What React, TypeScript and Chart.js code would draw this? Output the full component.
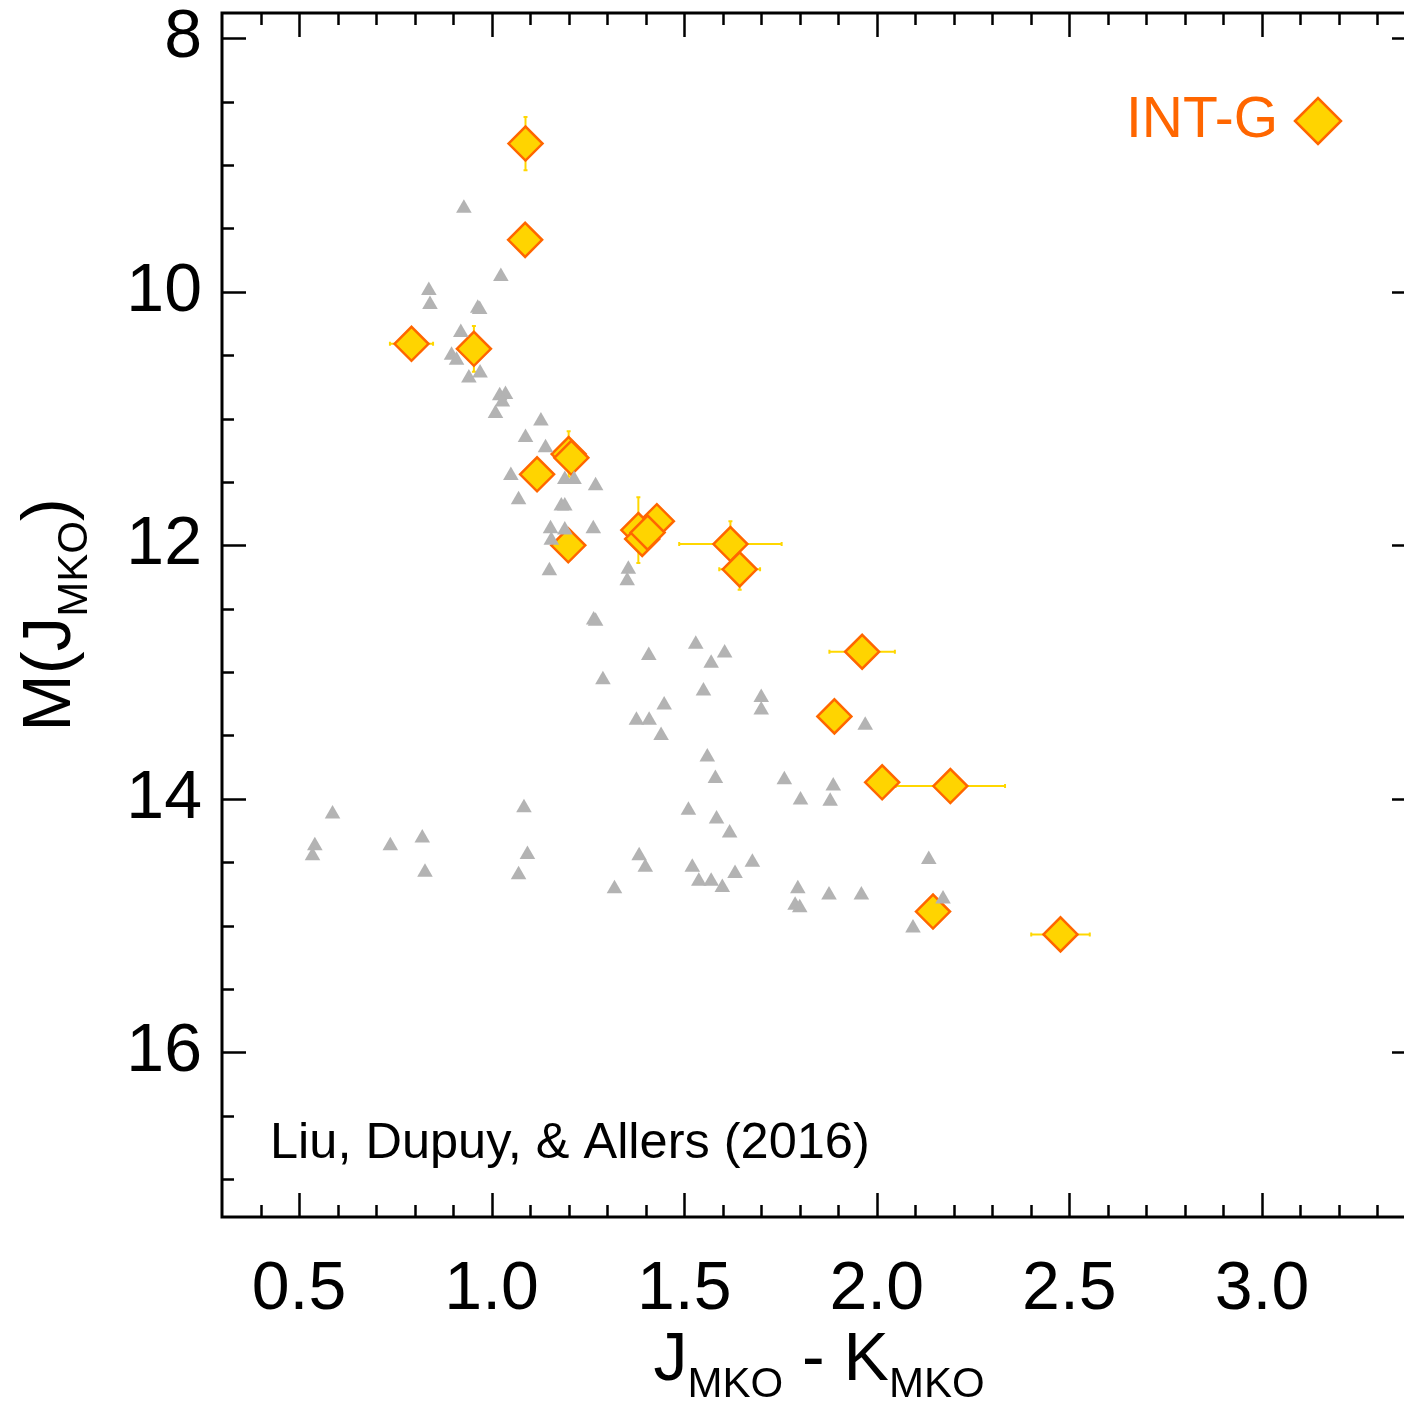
import React, { useEffect, useRef } from "react";
import { Chart, registerables } from "chart.js";

Chart.register(...registerables);

// Field objects (grey triangles): J-K colour and M(J)
const fieldX = [
  0.928, 1.024, 0.837, 0.840, 0.964, 0.969, 0.920, 0.896, 0.909, 0.970,
  0.941, 1.021, 1.036, 1.028, 1.010, 1.128, 1.088, 1.140, 1.050, 1.190,
  1.214, 1.270, 1.070, 1.181, 1.190, 1.153, 1.190, 1.264, 1.155, 1.150,
  1.355, 1.352, 1.265, 1.270, 1.530, 1.605, 1.408, 1.570, 1.289, 1.550,
  1.700, 1.448, 1.700, 1.376, 1.409, 1.440, 1.970, 1.560, 1.581, 1.760,
  1.887, 1.802, 1.879, 1.511, 1.584, 1.618, 1.677, 1.521, 1.632, 1.538,
  1.570, 1.599, 1.795, 1.876, 1.960, 1.788, 1.800, 2.135, 2.172, 2.094,
  0.587, 0.541, 0.535, 0.737, 0.820, 0.827, 1.084, 1.093, 1.070, 1.383,
  1.399, 1.319,
];
const fieldY = [
  9.34, 9.88, 9.99, 10.10, 10.13, 10.14, 10.32, 10.50, 10.54, 10.64,
  10.68, 10.82, 10.81, 10.87, 10.96, 11.02, 11.15, 11.23, 11.45, 11.48,
  11.48, 11.53, 11.64, 11.69, 11.69, 11.87, 11.88, 11.87, 11.96, 12.20,
  12.19, 12.28, 12.59, 12.60, 12.78, 12.85, 12.87, 12.93, 13.06, 13.15,
  13.20, 13.26, 13.30, 13.38, 13.38, 13.50, 13.42, 13.67, 13.84, 13.85,
  13.90, 14.01, 14.02, 14.09, 14.16, 14.27, 14.50, 14.54, 14.59, 14.65,
  14.65, 14.70, 14.71, 14.76, 14.76, 14.84, 14.86, 14.48, 14.79, 15.02,
  14.12, 14.37, 14.45, 14.37, 14.31, 14.58, 14.07, 14.44, 14.60, 14.45,
  14.54, 14.71,
];

// INT-G objects (diamonds)
const intgX = [
  1.088, 1.087, 0.792, 0.954, 1.200, 1.207, 1.118, 1.199, 1.429, 1.381,
  1.391, 1.405, 1.620, 1.644, 1.962, 1.890, 2.014, 2.191, 2.146, 2.477,
];
const intgY = [
  8.83, 9.59, 10.41, 10.45, 11.28, 11.31, 11.44, 12.00, 11.81, 11.88,
  11.95, 11.90, 11.99, 12.19, 12.84, 13.35, 13.87, 13.90, 14.89, 15.07,
];
const intgXErr = [
  0, 0, 0.056, 0, 0, 0, 0, 0, 0, 0,
  0, 0, 0.133, 0.053, 0.085, 0, 0, 0.142, 0, 0.076,
];
const intgYErr = [
  0.21, 0, 0, 0.18, 0.18, 0, 0, 0, 0, 0.26,
  0, 0, 0.18, 0.16, 0, 0, 0, 0, 0, 0,
];

const xTickValues = [0.5, 1.0, 1.5, 2.0, 2.5, 3.0];
const yTickValues = [8, 10, 12, 14, 16];
const xMinorStep = 0.1;
const yMinorStep = 0.5;

const legendLabel = "INT-G";
const citation = "Liu, Dupuy, & Allers (2016)";

const W = 1430;
const H = 1404;
const FONT = '"Liberation Sans", Arial, Helvetica, sans-serif';
const ORANGE = "#FF6600";
const GOLD = "#FFD400";

function drawParts(
  ctx: CanvasRenderingContext2D,
  parts: [string, boolean][],
  cx: number,
  baseline: number,
  mainSize: number,
  subSize: number,
  subShift: number
) {
  const widths = parts.map(([t, sub]) => {
    ctx.font = `${sub ? subSize : mainSize}px ${FONT}`;
    return ctx.measureText(t).width;
  });
  const total = widths.reduce((a, b) => a + b, 0);
  let x = cx - total / 2;
  ctx.textAlign = "left";
  ctx.textBaseline = "alphabetic";
  parts.forEach(([t, sub], i) => {
    ctx.font = `${sub ? subSize : mainSize}px ${FONT}`;
    ctx.fillText(t, x, baseline + (sub ? subShift : 0));
    x += widths[i];
  });
}

const framePlugin = {
  id: "frame",
  beforeDatasetDraw(chart: any, args: any) {
    if (args.index !== 1) return;
    const ctx: CanvasRenderingContext2D = chart.ctx;
    const xs = chart.scales.x;
    const ys = chart.scales.y;
    ctx.save();
    ctx.strokeStyle = "#FFD700";
    ctx.lineWidth = 2;
    intgX.forEach((xv, i) => {
      const yv = intgY[i];
      const px = xs.getPixelForValue(xv);
      const py = ys.getPixelForValue(yv);
      if (intgXErr[i] > 0) {
        const x1 = xs.getPixelForValue(xv - intgXErr[i]);
        const x2 = xs.getPixelForValue(xv + intgXErr[i]);
        ctx.beginPath();
        ctx.moveTo(x1, py);
        ctx.lineTo(x2, py);
        ctx.moveTo(x1, py - 2);
        ctx.lineTo(x1, py + 2);
        ctx.moveTo(x2, py - 2);
        ctx.lineTo(x2, py + 2);
        ctx.stroke();
      }
      if (intgYErr[i] > 0) {
        const y1 = ys.getPixelForValue(yv - intgYErr[i]);
        const y2 = ys.getPixelForValue(yv + intgYErr[i]);
        ctx.beginPath();
        ctx.moveTo(px, y1);
        ctx.lineTo(px, y2);
        ctx.moveTo(px - 2, y1);
        ctx.lineTo(px + 2, y1);
        ctx.moveTo(px - 2, y2);
        ctx.lineTo(px + 2, y2);
        ctx.stroke();
      }
    });
    ctx.restore();
  },
  afterDraw(chart: any) {
    const ctx: CanvasRenderingContext2D = chart.ctx;
    const { left, right, top, bottom } = chart.chartArea;
    const xs = chart.scales.x;
    const ys = chart.scales.y;
    ctx.save();
    ctx.strokeStyle = "#000";
    ctx.lineWidth = 3;
    ctx.strokeRect(left, top, right - left, bottom - top);

    ctx.lineWidth = 2.5;
    ctx.beginPath();
    // x ticks (bottom and top, inward)
    for (let v = 0.4; v < 3.4 - 1e-6; v += xMinorStep) {
      const val = Math.round(v * 10) / 10;
      const major = xTickValues.some((t) => Math.abs(t - val) < 1e-6);
      const len = major ? 24 : 12;
      const px = Math.round(xs.getPixelForValue(val)) + 0.5;
      ctx.moveTo(px, bottom);
      ctx.lineTo(px, bottom - len);
      ctx.moveTo(px, top);
      ctx.lineTo(px, top + len);
    }
    // y ticks (left and right, inward)
    for (let v = 8; v <= 17.0 + 1e-6; v += yMinorStep) {
      const major = yTickValues.some((t) => Math.abs(t - v) < 1e-6);
      const len = major ? 24 : 12;
      const py = Math.round(ys.getPixelForValue(v)) + 0.5;
      ctx.moveTo(left, py);
      ctx.lineTo(left + len, py);
      ctx.moveTo(right, py);
      ctx.lineTo(right - len, py);
    }
    ctx.stroke();

    // axis titles with subscripts
    ctx.fillStyle = "#000";
    drawParts(
      ctx,
      [["J", false], ["MKO", true], [" - K", false], ["MKO", true]],
      (left + right) / 2,
      1380,
      68,
      42,
      17
    );
    ctx.save();
    ctx.translate(70, (top + bottom) / 2);
    ctx.rotate(-Math.PI / 2);
    drawParts(
      ctx,
      [["M(J", false], ["MKO", true], [")", false]],
      0,
      0,
      69,
      42,
      17
    );
    ctx.restore();

    // citation
    ctx.font = `50.5px ${FONT}`;
    ctx.textAlign = "left";
    ctx.textBaseline = "alphabetic";
    ctx.fillStyle = "#000";
    ctx.fillText(citation, left + 48, 1158);

    // legend
    ctx.font = `57px ${FONT}`;
    ctx.textAlign = "right";
    ctx.fillStyle = ORANGE;
    ctx.fillText(legendLabel, 1278, 137);
    const mx = 1318;
    const my = 121;
    const r = 23;
    ctx.beginPath();
    ctx.moveTo(mx - r, my);
    ctx.lineTo(mx, my - r);
    ctx.lineTo(mx + r, my);
    ctx.lineTo(mx, my + r);
    ctx.closePath();
    ctx.fillStyle = GOLD;
    ctx.fill();
    ctx.lineWidth = 2.5;
    ctx.strokeStyle = ORANGE;
    ctx.stroke();
    ctx.restore();
  },
};

export default function App() {
  const ref = useRef<HTMLCanvasElement>(null);
  useEffect(() => {
    const canvas = ref.current;
    if (!canvas) return;
    const chart = new Chart(canvas, {
      type: "scatter",
      data: {
        datasets: [
          {
            label: "field",
            data: fieldX.map((x, i) => ({ x, y: fieldY[i] })),
            pointStyle: "triangle",
            pointRadius: 9,
            pointBackgroundColor: "#B3B3B3",
            pointBorderWidth: 0,
          },
          {
            label: legendLabel,
            data: intgX.map((x, i) => ({ x, y: intgY[i] })),
            pointStyle: "rectRot",
            pointRadius: 17,
            pointBackgroundColor: GOLD,
            pointBorderColor: ORANGE,
            pointBorderWidth: 2.5,
          },
        ],
      },
      options: {
        responsive: false,
        animation: false,
        devicePixelRatio: 1,
        events: [],
        layout: {
          autoPadding: false,
          padding: { top: 13, right: W - 1416, left: 0, bottom: 0 },
        },
        plugins: { legend: { display: false }, tooltip: { enabled: false } },
        scales: {
          x: {
            type: "linear",
            position: "bottom",
            min: 0.3,
            max: 3.4,
            grid: { display: false },
            border: { display: false },
            afterBuildTicks: (s: any) => {
              s.ticks = xTickValues.map((v) => ({ value: v }));
            },
            afterFit: (s: any) => {
              s.height = 187;
              s.paddingLeft = 0;
              s.paddingRight = 0;
            },
            ticks: {
              autoSkip: false,
              maxRotation: 0,
              padding: 24,
              color: "#000",
              font: { family: FONT, size: 68 },
              callback: (v: any) => Number(v).toFixed(1),
            },
          },
          y: {
            type: "linear",
            position: "left",
            reverse: true,
            min: 7.8,
            max: 17.3,
            grid: { display: false },
            border: { display: false },
            afterBuildTicks: (s: any) => {
              s.ticks = yTickValues.map((v) => ({ value: v }));
            },
            afterFit: (s: any) => {
              s.width = 222;
              s.paddingTop = 0;
              s.paddingBottom = 0;
            },
            ticks: {
              autoSkip: false,
              padding: 12,
              color: "#000",
              font: { family: FONT, size: 68 },
              callback: (v: any) => String(v),
            },
          },
        },
      },
      plugins: [framePlugin as any],
    });
    return () => chart.destroy();
  }, []);
  return (
    <div
      style={{
        position: "fixed",
        left: 0,
        top: 0,
        width: 1404,
        height: 1404,
        overflow: "hidden",
        background: "#fff",
      }}
    >
      <canvas ref={ref} width={W} height={H} style={{ display: "block", width: W, height: H }} />
    </div>
  );
}
